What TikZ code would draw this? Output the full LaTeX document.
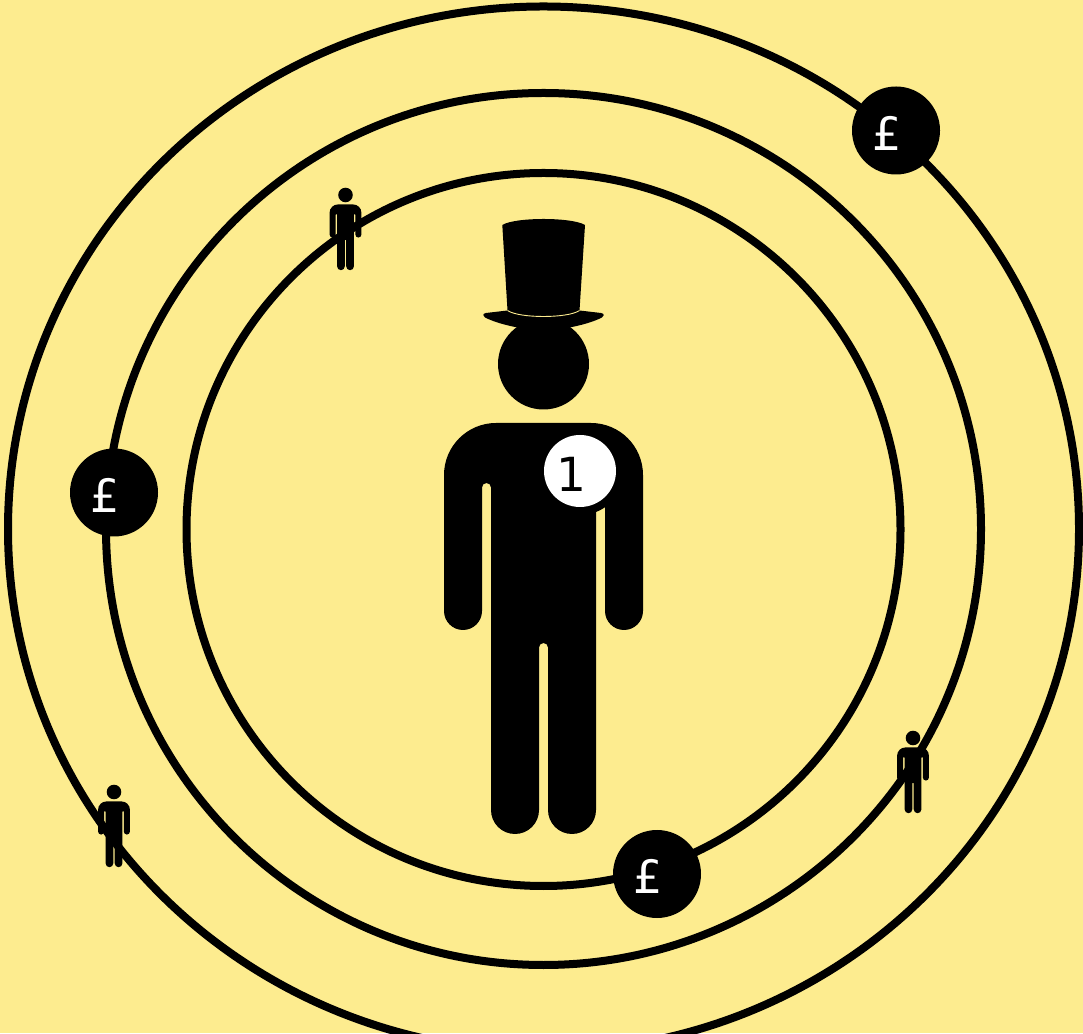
\documentclass[tikz,border=0pt]{standalone}
\usepackage{fontspec}
\setmainfont{DejaVu Sans}
\usetikzlibrary{positioning}
\definecolor{paper}{HTML}{FDEC8F}

\begin{document}
\begin{tikzpicture}[
    x=1pt, y=1pt,
    % shapes
    ring/.style={draw=black, line width=8pt},
    coin/.style={circle, fill=black, minimum size=88pt, inner sep=0pt},
    badge/.style={circle, fill=white, minimum size=72pt, inner sep=0pt},
    pound/.style={text=white, inner sep=0pt, font=\fontsize{46}{46}\selectfont},
    numeral/.style={text=black, inner sep=0pt, font=\fontsize{47}{47}\selectfont},
    % figure, origin at the centre of the head
    person/.pic={
        \fill (0,0) circle[radius=45.5];
        \fill (-47.5,-59) -- (47.5,-59) arc[start angle=90, end angle=0, radius=52]
            -- (99.5,-247) arc[start angle=0, end angle=-180, radius=19]
            -- (61.5,-123.5) arc[start angle=0, end angle=180, radius=4.5]
            -- (52.5,-446) arc[start angle=0, end angle=-180, radius=24]
            -- (4.5,-283.5) arc[start angle=0, end angle=180, radius=4.5]
            -- (-4.5,-446) arc[start angle=0, end angle=-180, radius=24]
            -- (-52.5,-123.5) arc[start angle=0, end angle=180, radius=4.5]
            -- (-61.5,-247) arc[start angle=0, end angle=-180, radius=19]
            -- (-99.5,-111) arc[start angle=180, end angle=90, radius=52] -- cycle;
    }
]

% ====================
% background
% ====================
\fill[paper] (0,0) rectangle (1083,1033);
\useasboundingbox (0,0) rectangle (1083,1033);
\clip (0,0) rectangle (1083,1033);

% ====================
% rings
% ====================
\draw[ring] (543.5,504) ellipse[x radius=535.5, y radius=522.5];
\draw[ring] (543.5,504) ellipse[x radius=437.5, y radius=436];
\draw[ring] (543.5,503.5) ellipse[x radius=357, y radius=356.5];

% ====================
% main figure and hat
% ====================
\pic at (543.5,669) {person};

\fill (502.3,808) .. controls (515,816) and (572,816) .. (585,808)
    -- (579.5,722.5) -- (601,720) .. controls (605,719.5) and (604,716.5) .. (602,715.5)
    .. controls (587,708) and (562,703) .. (543.5,703)
    .. controls (525,703) and (500,708) .. (485,715.5)
    .. controls (483,716.5) and (482,719.5) .. (486,720)
    -- (507.5,722.5) -- cycle;
\draw[paper, line width=0.9pt] (507.5,722.5) .. controls (519,714.5) and (568,714.5) .. (579.5,722.5);

\node[coin] (backing) at (580,562) {};
\node[badge] (badge) at (580,562) {};
\node[numeral] (one) at ([xshift=-8.5pt, yshift=-3pt]badge.center) {1};

% ====================
% small figures
% ====================
\pic[scale=0.16] at (345.5,838) {person};
\pic[scale=0.16] at (913,295) {person};
\pic[scale=0.16] at (114,241) {person};

% ====================
% coins
% ====================
\node[coin] (coinA) at (896,902.5) {};
\node[coin] (coinB) at (114,540.5) {};
\node[coin] (coinC) at (657,159) {};

\node[pound] (poundA) at ([xshift=-9pt, yshift=-2.5pt]coinA.center) {£};
\node[pound] (poundB) at ([xshift=-9pt, yshift=-2.5pt]coinB.center) {£};
\node[pound] (poundC) at ([xshift=-9pt, yshift=-2.5pt]coinC.center) {£};

\end{tikzpicture}
\end{document}
